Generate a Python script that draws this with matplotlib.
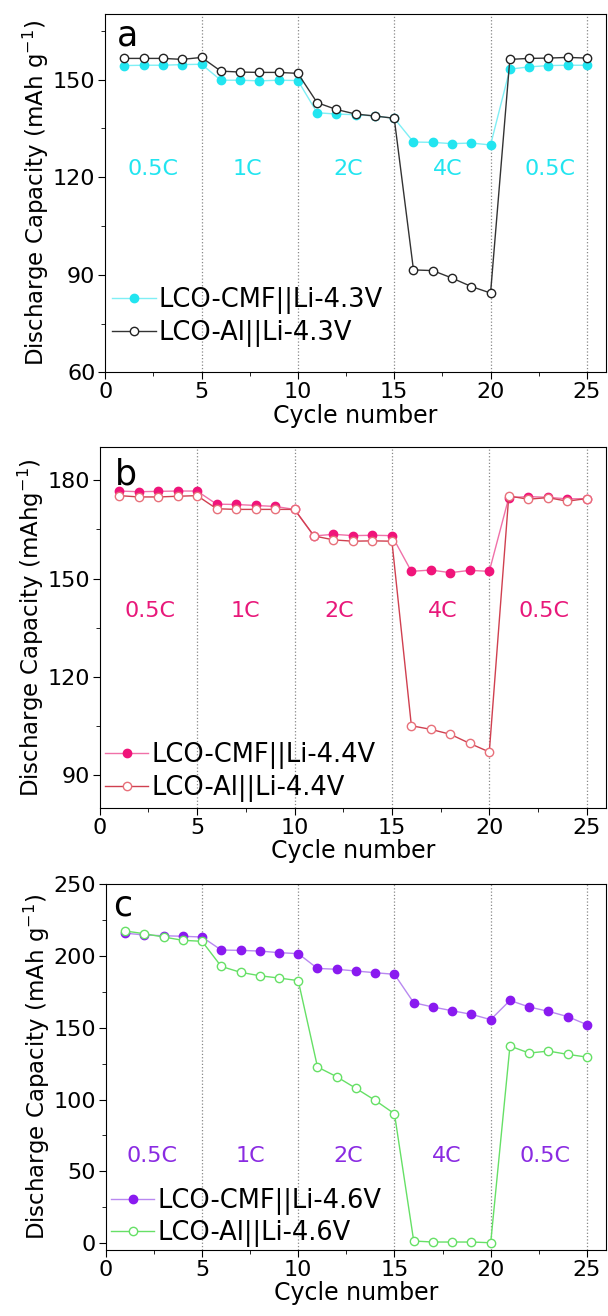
import matplotlib.pyplot as plt
from matplotlib.ticker import MultipleLocator

plt.rcParams['font.family'] = ['DejaVu Sans']

# Define data.
cycles = list(range(1, 26))
rate_labels = ['0.5C', '1C', '2C', '4C', '0.5C']
boundaries = [5, 10, 15, 20, 25]

cmf_43 = [154.3, 154.4, 154.4, 154.6, 154.7,
          149.8, 149.8, 149.6, 149.8, 149.7,
          139.8, 139.4, 139.2, 138.8, 138.1,
          130.8, 130.7, 130.3, 130.5, 129.9,
          153.2, 153.9, 154.3, 154.4, 154.4]
al_43 = [156.5, 156.5, 156.5, 156.2, 156.8,
         152.6, 152.3, 152.2, 152.2, 151.9,
         142.9, 140.8, 139.4, 138.8, 138.1,
         91.5, 91.3, 89.0, 86.4, 84.4,
         156.2, 156.5, 156.6, 156.8, 156.6]

cmf_44 = [176.7, 176.5, 176.6, 176.7, 176.7,
          172.7, 172.6, 172.3, 172.0, 171.1,
          163.0, 163.5, 163.1, 163.2, 163.1,
          152.2, 152.6, 151.8, 152.5, 152.2,
          174.7, 175.0, 174.8, 174.3, 174.4]
al_44 = [175.3, 174.9, 174.9, 175.1, 175.3,
         171.3, 171.1, 171.1, 171.1, 171.1,
         163.0, 161.8, 161.4, 161.5, 161.4,
         105.1, 104.0, 102.5, 99.7, 97.1,
         175.2, 174.2, 174.7, 173.6, 174.4]

cmf_46 = [216.0, 214.7, 214.2, 213.8, 213.3,
          204.2, 204.0, 203.5, 202.4, 201.7,
          191.4, 190.8, 189.6, 188.4, 187.3,
          167.5, 164.5, 161.9, 159.4, 155.7,
          169.1, 164.5, 161.5, 157.8, 152.2]
al_46 = [217.5, 215.6, 213.3, 211.0, 210.3,
         192.8, 188.7, 186.3, 184.7, 182.9,
         122.7, 115.9, 107.8, 99.4, 90.1,
         1.4, 0.7, 0.7, 0.7, 0.2,
         137.3, 132.4, 133.8, 131.5, 129.6]

panels = [
    dict(tag='a', cmf=cmf_43, al=al_43, v='4.3V', ylim=(60, 170), major=30, minor=15,
         c_cmf='#22E5F0', l_cmf='#7FEFF5', c_al='#222222', l_al='#333333',
         txt='#22E5F0', rate_y=122.5, rate_x=[2.5, 7.4, 12.6, 17.8, 23.1],
         ylabel='Discharge Capacity (mAh g$^{-1}$)',
         pos=[0.173, 0.717, 0.824, 0.272], leg=(0.014, 0.155), tag_xy=(0.024, 0.913)),
    dict(tag='b', cmf=cmf_44, al=al_44, v='4.4V', ylim=(80, 190), major=30, minor=15,
         c_cmf='#F0147A', l_cmf='#F070A8', c_al='#E8707A', l_al='#D04050',
         txt='#E8187A', rate_y=140, rate_x=[2.6, 7.5, 12.3, 17.6, 22.8],
         ylabel='Discharge Capacity (mAhg$^{-1}$)',
         pos=[0.164, 0.386, 0.833, 0.274], leg=(0.01, 0.10), tag_xy=(0.03, 0.897)),
    dict(tag='c', cmf=cmf_46, al=al_46, v='4.6V', ylim=(-5, 250), major=50, minor=25,
         c_cmf='#8A1AF0', l_cmf='#B888F0', c_al='#66E066', l_al='#66E066',
         txt='#8A2BE2', rate_y=61, rate_x=[2.4, 7.5, 12.6, 17.7, 22.8],
         ylabel='Discharge Capacity (mAh g$^{-1}$)',
         pos=[0.174, 0.050, 0.823, 0.278], leg=(0.01, 0.09), tag_xy=(0.015, 0.915)),
]

fig = plt.figure(figsize=(6.08, 13.16), dpi=100)

for p in panels:
    ax = fig.add_axes(p['pos'])
    for b in boundaries:
        ax.axvline(b, color='#888888', linestyle=':', linewidth=0.9, zorder=1)
    ax.plot(cycles, p['cmf'], color=p['l_cmf'], linewidth=1.0, marker='o',
            markersize=6, markerfacecolor=p['c_cmf'], markeredgecolor=p['c_cmf'],
            label='LCO-CMF||Li-' + p['v'], zorder=3)
    ax.plot(cycles, p['al'], color=p['l_al'], linewidth=1.0, marker='o',
            markersize=6, markerfacecolor='white', markeredgecolor=p['c_al'],
            label='LCO-Al||Li-' + p['v'], zorder=4)

    for lab, xc in zip(rate_labels, p['rate_x']):
        ax.text(xc, p['rate_y'], lab, color=p['txt'], fontsize=16,
                ha='center', va='center')
    ax.text(p['tag_xy'][0], p['tag_xy'][1], p['tag'], transform=ax.transAxes,
            fontsize=25, ha='left', va='baseline')

    ax.set_xlim(0, 26)
    ax.set_ylim(*p['ylim'])
    ax.xaxis.set_major_locator(MultipleLocator(5))
    ax.xaxis.set_minor_locator(MultipleLocator(2.5))
    ax.yaxis.set_major_locator(MultipleLocator(p['major']))
    ax.yaxis.set_minor_locator(MultipleLocator(p['minor']))
    ax.tick_params(axis='both', which='major', direction='out', length=5,
                   labelsize=16, pad=2, top=False, right=False)
    ax.tick_params(axis='both', which='minor', direction='out', length=3,
                   top=False, right=False)
    ax.set_xlabel('Cycle number', fontsize=17, labelpad=1)
    ax.set_ylabel(p['ylabel'], fontsize=16.5, labelpad=1)

    ax.legend(loc='center left', bbox_to_anchor=p['leg'], frameon=False,
              fontsize=18.5, handlelength=1.7, handletextpad=0.1, labelspacing=0.2,
              borderpad=0, borderaxespad=0)

plt.savefig('out.png', dpi=100)
